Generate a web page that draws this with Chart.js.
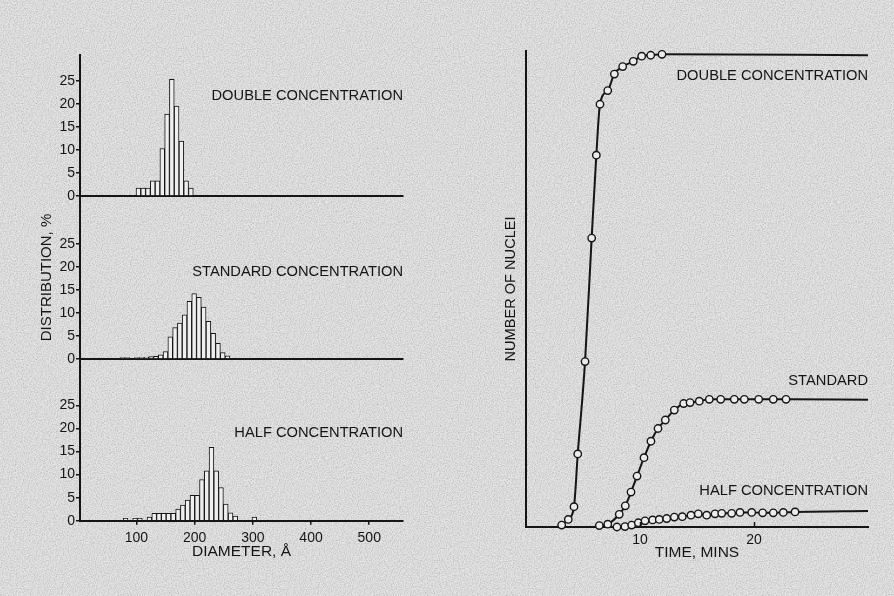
<!DOCTYPE html>
<html>
<head>
<meta charset="utf-8">
<script src="https://cdn.jsdelivr.net/npm/chart.js@4.4.1/dist/chart.umd.min.js"></script>
<style>
  html, body { margin: 0; padding: 0; width: 894px; height: 596px; overflow: hidden; }
  body {
    background-color: #e4e4e4;
    background-image: url("data:image/svg+xml;utf8,<svg xmlns='http://www.w3.org/2000/svg' width='256' height='256'><filter id='n'><feTurbulence type='fractalNoise' baseFrequency='0.85' numOctaves='2' seed='3' stitchTiles='stitch'/><feColorMatrix values='0 0 0 0 0.1  0 0 0 0 0.1  0 0 0 0 0.1  0.55 0 0 0 -0.2'/></filter><rect width='100%' height='100%' filter='url(%23n)'/></svg>");
  }
  canvas { position: absolute; }
</style>
</head>
<body>
<canvas id="h1" width="420" height="175" style="left:0;top:40px;width:420px;height:175px"></canvas>
<canvas id="h2" width="420" height="200" style="left:0;top:180px;width:420px;height:200px"></canvas>
<canvas id="h3" width="420" height="256" style="left:0;top:340px;width:420px;height:256px"></canvas>
<canvas id="growth" width="454" height="596" style="left:440px;top:0;width:454px;height:596px"></canvas>
<script>
// ---------- DATA ----------
const diameterTicks = [100, 200, 300, 400, 500];
const percentTicks  = [0, 5, 10, 15, 20, 25];
const timeTicks     = [10, 20];

// Histogram bins: diameter (bin centre, Å) and distribution (%)
const doubleDiameter = [103.4, 111.6, 119.8, 128.0, 136.2, 144.4, 152.6, 160.8, 169.0, 177.2, 185.4, 193.6];
const doublePercent  = [1.7, 1.7, 1.7, 3.3, 3.3, 10.3, 17.8, 25.3, 19.5, 11.9, 3.3, 1.7];

const standardDiameter = [76.1, 84.3, 92.5, 100.7, 108.9, 117.1, 125.3, 133.5, 141.7, 149.9, 158.1, 166.3, 174.5, 182.7, 190.9, 199.1, 207.3, 215.5, 223.7, 231.9, 240.1, 248.3, 256.5];
const standardPercent  = [0.3, 0.3, 0, 0.3, 0.3, 0.4, 0.5, 0.6, 0.9, 1.6, 4.8, 6.8, 7.8, 9.6, 12.5, 14.2, 13.4, 11.3, 8.2, 5.6, 3.4, 1.4, 0.7];

const halfDiameter = [81.3, 89.5, 97.7, 105.9, 114.1, 122.3, 130.5, 138.7, 146.9, 155.1, 163.3, 171.5, 179.7, 187.9, 196.1, 204.3, 212.5, 220.7, 228.9, 237.1, 245.3, 253.5, 261.7, 269.9, 278.1, 286.3, 294.5, 302.7];
const halfPercent  = [0.5, 0, 0.5, 0.5, 0, 0.8, 1.6, 1.6, 1.6, 1.6, 1.6, 2.5, 3.4, 4.5, 5.5, 5.5, 8.9, 10.8, 15.9, 10.8, 7.2, 3.6, 1.7, 1.0, 0, 0, 0, 0.8];

// Nucleation curves: time (min) and number of nuclei (arbitrary units, double plateau = 100)
const doubleTime   = [3.13, 3.71, 4.21, 4.54, 5.18, 5.76, 6.17, 6.49, 7.17, 7.75, 8.48, 9.41, 10.15, 10.94, 11.93, 30];
const doubleNuclei = [0.4, 1.6, 4.3, 15.5, 35.1, 61.3, 78.9, 89.7, 92.6, 96.1, 97.7, 98.8, 99.9, 100.1, 100.3, 100.1];

const standardTime   = [6.43, 7.17, 8.18, 8.71, 9.21, 9.74, 10.35, 10.96, 11.58, 12.22, 13.01, 13.83, 14.39, 15.20, 16.08, 17.08, 18.27, 19.15, 20.41, 21.69, 22.81, 30];
const standardNuclei = [0.3, 0.6, 2.7, 4.5, 7.4, 10.8, 14.7, 18.2, 20.9, 22.7, 24.8, 26.2, 26.4, 26.7, 27.1, 27.1, 27.1, 27.1, 27.1, 27.1, 27.1, 27.0];

const halfTime   = [7.98, 8.68, 9.27, 9.85, 10.44, 11.11, 11.69, 12.34, 13.01, 13.71, 14.47, 15.11, 15.85, 16.58, 17.17, 18.04, 18.77, 19.80, 20.76, 21.69, 22.57, 23.60, 30];
const halfNuclei = [0.0, 0.1, 0.4, 0.9, 1.3, 1.5, 1.6, 1.8, 2.1, 2.2, 2.5, 2.8, 2.5, 2.8, 2.9, 2.9, 3.1, 3.1, 3.0, 3.0, 3.1, 3.2, 3.4];

// ---------- STYLE / LAYOUT ----------
const INK = '#151515';
const FONT = "'Liberation Sans', Arial, Helvetica, sans-serif";
Chart.defaults.font.family = FONT;
Chart.defaults.color = INK;
Chart.defaults.animation = false;

// Text annotations drawn right-aligned at the plot's right edge, at a y value of the scale
const notesPlugin = {
  id: 'notes',
  afterDraw(chart, args, opts) {
    if (!opts || !opts.items) return;
    const { ctx, chartArea, scales } = chart;
    ctx.save();
    ctx.fillStyle = INK;
    ctx.font = (opts.size || 14.7) + 'px ' + FONT;
    ctx.textAlign = 'right';
    ctx.textBaseline = 'middle';
    opts.items.forEach(it => {
      ctx.fillText(it.text, chartArea.right + (it.dx || 0), scales.y.getPixelForValue(it.at));
    });
    ctx.restore();
  }
};

// Small tick marks pointing into the plot from the x axis
const inTicksPlugin = {
  id: 'inTicks',
  afterDraw(chart, args, opts) {
    if (!opts || !opts.values) return;
    const { ctx, scales } = chart;
    const xs = scales.x;
    ctx.save();
    ctx.strokeStyle = INK;
    ctx.lineWidth = 1.5;
    opts.values.forEach(v => {
      const px = Math.round(xs.getPixelForValue(v)) + 0.5;
      ctx.beginPath();
      ctx.moveTo(px, xs.top);
      ctx.lineTo(px, xs.top - (opts.len || 5));
      ctx.stroke();
    });
    ctx.restore();
  }
};

function histogram(id, xs, ys, o) {
  return new Chart(document.getElementById(id), {
    type: 'bar',
    data: {
      datasets: [{
        data: xs.map((x, i) => ({ x: x, y: ys[i] })),
        backgroundColor: '#efefef',
        borderColor: INK,
        borderWidth: 1,
        borderSkipped: 'start',
        barPercentage: 1,
        categoryPercentage: 1
      }]
    },
    options: {
      responsive: false,
      animation: false,
      layout: { padding: o.padding },
      plugins: {
        legend: { display: false },
        tooltip: { enabled: false },
        notes: { items: o.notes }
      },
      scales: {
        x: {
          type: 'linear',
          offset: false,
          min: 3,
          max: 558,
          afterBuildTicks: s => { s.ticks = diameterTicks.map(v => ({ value: v })); },
          afterFit: s => { s.height = o.xHeight; },
          grid: { display: o.xLabels, offset: false, drawOnChartArea: false, drawTicks: true, tickLength: 4, color: INK, lineWidth: 1.5 },
          border: { display: true, color: INK, width: 2 },
          ticks: { display: o.xLabels, padding: 5, font: { size: 14 }, maxRotation: 0 },
          title: o.xTitle ? { display: true, text: o.xTitle, font: { size: 15.5 }, padding: { top: 0, bottom: 0 } } : { display: false }
        },
        y: {
          min: 0,
          max: o.yMax,
          afterBuildTicks: s => { s.ticks = percentTicks.map(v => ({ value: v })); },
          afterFit: s => { s.width = 80; },
          grid: { drawOnChartArea: false, tickLength: 4, color: INK, lineWidth: 1.5 },
          border: { display: true, color: INK, width: 2 },
          ticks: { padding: 1, font: { size: 14 } },
          title: o.yTitle ? { display: true, text: o.yTitle, font: { size: 15 }, padding: { top: 38, bottom: 0 } } : { display: false }
        }
      }
    },
    plugins: [notesPlugin]
  });
}

histogram('h1', doubleDiameter, doublePercent, {
  padding: { left: 0, top: 15, right: 17, bottom: 19 },
  yMax: 30.6, xHeight: 0, xLabels: false,
  notes: [{ text: 'DOUBLE CONCENTRATION', at: 21.7 }]
});
histogram('h2', standardDiameter, standardPercent, {
  padding: { left: 0, top: 16, right: 17, bottom: 21 },
  yMax: 35.4, xHeight: 0, xLabels: false,
  yTitle: 'DISTRIBUTION, %',
  notes: [{ text: 'STANDARD CONCENTRATION', at: 18.9 }]
});
histogram('h3', halfDiameter, halfPercent, {
  padding: { left: 0, top: 19, right: 17, bottom: 35.3 },
  yMax: 35.1, xHeight: 40, xLabels: true,
  xTitle: 'DIAMETER, Å',
  notes: [{ text: 'HALF CONCENTRATION', at: 19.1 }]
});

function curve(xs, ys) {
  return {
    data: xs.map((x, i) => ({ x: x, y: ys[i] })),
    borderColor: INK,
    borderWidth: 2,
    pointRadius: c => (c.dataIndex === xs.length - 1 ? 0 : 3.7),
    pointBorderWidth: 1.4,
    pointBorderColor: INK,
    pointBackgroundColor: '#ececec',
    cubicInterpolationMode: 'monotone',
    fill: false,
    clip: false
  };
}

new Chart(document.getElementById('growth'), {
  type: 'line',
  data: {
    datasets: [
      curve(doubleTime, doubleNuclei),
      curve(standardTime, standardNuclei),
      curve(halfTime, halfNuclei)
    ]
  },
  options: {
    responsive: false,
    animation: false,
    layout: { padding: { left: 0, top: 51, right: 26, bottom: 29 } },
    plugins: {
      legend: { display: false },
      tooltip: { enabled: false },
      notes: {
        items: [
          { text: 'DOUBLE CONCENTRATION', at: 95.7 },
          { text: 'STANDARD', at: 31.0 },
          { text: 'HALF CONCENTRATION', at: 7.6 }
        ]
      },
      inTicks: { values: timeTicks, len: 5 }
    },
    scales: {
      x: {
        type: 'linear',
        min: 0,
        max: 30,
        afterBuildTicks: s => { s.ticks = timeTicks.map(v => ({ value: v })); },
        afterFit: s => { s.height = 40; },
        grid: { display: false, drawTicks: false },
        border: { display: true, color: INK, width: 2 },
        ticks: { padding: 5, font: { size: 14 }, maxRotation: 0 },
        title: { display: true, text: 'TIME, MINS', font: { size: 15.5 }, padding: { top: 0, bottom: 5 } }
      },
      y: {
        min: 0,
        max: 101,
        afterFit: s => { s.width = 86; },
        grid: { display: false, drawTicks: false },
        border: { display: true, color: INK, width: 2 },
        ticks: { display: false },
        title: { display: true, text: 'NUMBER OF NUCLEI', font: { size: 14.6 }, padding: { top: 62, bottom: 0 } }
      }
    }
  },
  plugins: [notesPlugin, inTicksPlugin]
});
</script>
</body>
</html>
